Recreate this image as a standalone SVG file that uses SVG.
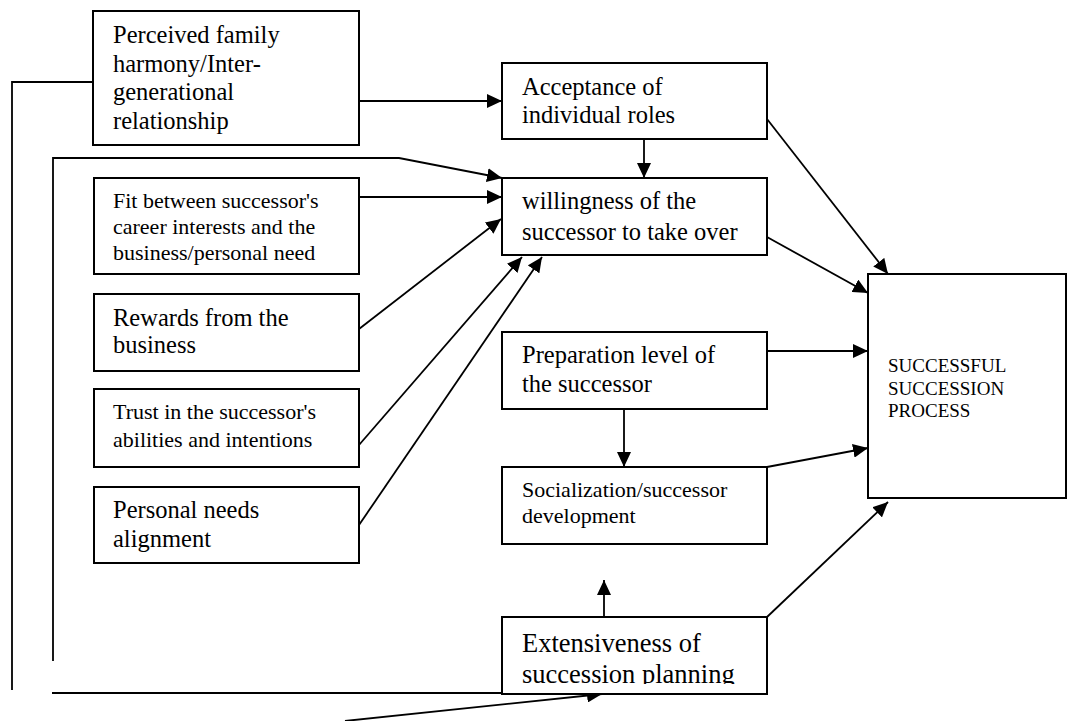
<svg xmlns="http://www.w3.org/2000/svg" width="1068" height="721" viewBox="0 0 1068 721">
  <style>
    .box { fill: #fff; stroke: #000; stroke-width: 2; }
    .ln { fill: none; stroke: #000; stroke-width: 1.8; }
    .arr { marker-end: url(#head); }
    text { font-family: "Liberation Serif", "Times New Roman", serif; fill: #000; }
    .lg { font-size: 24.5px; }
    .sm { font-size: 22px; }
    .xs { font-size: 19px; }
    .xl { font-size: 26.5px; }
  </style>
  <defs>
    <marker id="head" markerUnits="userSpaceOnUse" markerWidth="16" markerHeight="14" refX="15" refY="7" orient="auto">
      <path d="M0,0 L15,7 L0,14 z" fill="#000"/>
    </marker>
    <clipPath id="extClip">
      <rect x="502" y="617" width="265" height="67"/>
    </clipPath>
  </defs>

  <rect width="1068" height="721" fill="#fff"/>

  <!-- connectors -->
  <g id="connectors">
    <polyline class="ln" points="93,82 12,82 12,690"/>
    <polyline class="ln arr" points="53,661 53,158 399,158 502,178"/>
    <line class="ln" x1="52" y1="693" x2="502" y2="693"/>
    <line class="ln arr" x1="345" y1="721" x2="602" y2="694"/>
    <line class="ln arr" x1="359" y1="101" x2="502" y2="101"/>
    <line class="ln arr" x1="359" y1="197" x2="502" y2="197"/>
    <line class="ln arr" x1="359" y1="329" x2="501" y2="219"/>
    <line class="ln arr" x1="359" y1="445" x2="522" y2="257"/>
    <line class="ln arr" x1="359" y1="525" x2="542" y2="257"/>
    <line class="ln arr" x1="644" y1="139" x2="644" y2="178"/>
    <line class="ln arr" x1="767" y1="119" x2="888" y2="274"/>
    <line class="ln arr" x1="767" y1="237" x2="868" y2="293"/>
    <line class="ln arr" x1="767" y1="351" x2="868" y2="351"/>
    <line class="ln arr" x1="624" y1="409" x2="624" y2="467"/>
    <line class="ln arr" x1="767" y1="467" x2="868" y2="448"/>
    <line class="ln arr" x1="604" y1="617" x2="604" y2="580"/>
    <line class="ln arr" x1="767" y1="617" x2="888" y2="502"/>
  </g>

  <g id="family-harmony">
    <rect class="box" x="93" y="11" width="266" height="134"/>
    <text class="lg" x="113" y="43">Perceived family</text>
    <text class="lg" x="113" y="72">harmony/Inter-</text>
    <text class="lg" x="113" y="100">generational</text>
    <text class="lg" x="113" y="129">relationship</text>
  </g>

  <g id="career-fit">
    <rect class="box" x="94" y="178" width="265" height="96"/>
    <text class="sm" x="113" y="208">Fit between successor's</text>
    <text class="sm" x="113" y="234">career interests and the</text>
    <text class="sm" x="113" y="260">business/personal need</text>
  </g>

  <g id="rewards">
    <rect class="box" x="94" y="294" width="265" height="77"/>
    <text class="lg" x="113" y="326">Rewards from the</text>
    <text class="lg" x="113" y="353">business</text>
  </g>

  <g id="trust">
    <rect class="box" x="94" y="389" width="265" height="78"/>
    <text class="sm" x="113" y="419">Trust in the successor's</text>
    <text class="sm" x="113" y="447">abilities and intentions</text>
  </g>

  <g id="personal-needs">
    <rect class="box" x="94" y="487" width="265" height="76"/>
    <text class="lg" x="113" y="518">Personal needs</text>
    <text class="lg" x="113" y="547">alignment</text>
  </g>

  <g id="acceptance">
    <rect class="box" x="502" y="63" width="265" height="76"/>
    <text class="lg" x="522" y="95">Acceptance of</text>
    <text class="lg" x="522" y="123">individual roles</text>
  </g>

  <g id="willingness">
    <rect class="box" x="502" y="178" width="265" height="77"/>
    <text class="lg" x="522" y="209">willingness of the</text>
    <text class="lg" x="522" y="240">successor to take over</text>
  </g>

  <g id="preparation">
    <rect class="box" x="502" y="332" width="265" height="77"/>
    <text class="lg" x="522" y="363">Preparation level of</text>
    <text class="lg" x="522" y="392">the successor</text>
  </g>

  <g id="socialization">
    <rect class="box" x="502" y="467" width="265" height="77"/>
    <text class="sm" x="522" y="497">Socialization/successor</text>
    <text class="sm" x="522" y="523">development</text>
  </g>

  <g id="succession-planning">
    <rect class="box" x="502" y="617" width="265" height="77"/>
    <g clip-path="url(#extClip)">
      <text class="xl" x="522" y="652">Extensiveness of</text>
      <text class="xl" x="522" y="683">succession planning</text>
    </g>
  </g>

  <g id="successful-succession">
    <rect class="box" x="868" y="274" width="198" height="224"/>
    <text class="xs" x="888" y="372">SUCCESSFUL</text>
    <text class="xs" x="888" y="395">SUCCESSION</text>
    <text class="xs" x="888" y="417">PROCESS</text>
  </g>
</svg>
